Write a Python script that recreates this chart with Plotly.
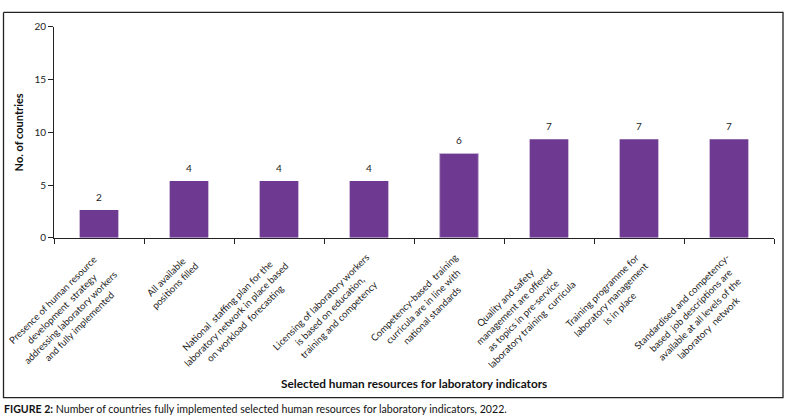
import plotly.graph_objects as go
import math

categories = [
    "Presence of human resource<br>development  strategy<br>addressing laboratory workers<br>and fully implemented",
    "All available<br>positions filled",
    "National  staffing plan for the<br>laboratory network in place based<br>on workload  forecasting",
    "Licensing of laboratory workers<br>is based on education,<br>training and competency",
    "Competency-based  training<br>curricula are in line with<br>national standards",
    "Quality and safety<br>management are offered<br>as topics in pre-service<br>laboratory training  curricula",
    "Training programme for<br>laboratory management<br>is in place",
    "Standardised and competency-<br>based  job descriptions are<br>available at all levels of the<br>laboratory  network",
]
bar_heights = [2.65, 5.4, 5.4, 5.4, 8.0, 9.35, 9.35, 9.35]
value_labels = ["2", "4", "4", "4", "6", "7", "7", "7"]
y_ticks = [0, 5, 10, 15, 20]

FONT = "Lato"
W, H = 790, 416
M = 5.0  # vertical margin that plotly pushes for the hidden overlay axis
# plot area in pixels
PX0, PX1, PY0, PY1 = 54, 774, 25, 237

def px(x):
    return x / W

def py(y):
    return (H - M - y) / (H - 2 * M)

keys = [f"c{i}" for i in range(len(categories))]

line_colors = ["rgba(0,0,0,0)"] * len(keys)
line_colors[4] = "#c4b3d6"

fig = go.Figure()
fig.add_trace(go.Bar(
    x=keys, y=bar_heights,
    marker=dict(color="#6E3A91", line=dict(color=line_colors, width=1)),
    hoverinfo="skip",
))

# outer frame on a full-page overlay axis pair (pixel coordinates)
fx0, fx1, fy0, fy1 = 3.5, 783.0, 10.5, 397.5
fig.add_trace(go.Scatter(
    x=[fx0, fx1, fx1, fx0, fx0], y=[fy0, fy0, fy1, fy1, fy0],
    xaxis="x2", yaxis="y2", mode="lines",
    line=dict(color="#222", width=1.3), hoverinfo="skip",
))

ann = []
for k, h, t in zip(keys, bar_heights, value_labels):
    ann.append(dict(x=k, y=h, xref="x", yref="y", text=t, showarrow=False,
                    yanchor="bottom", yshift=5, font=dict(family=FONT, size=10, color="#222")))

fs = 9.6
lh = fs * 1.3
for k, c in zip(keys, categories):
    n = c.count("<br>") + 1
    Hb = n * lh
    ann.append(dict(x=k, y=py(PY1), xref="x", yref="paper", text=c, showarrow=False,
                    textangle=-45, align="center", xanchor="right", yanchor="top",
                    xshift=-4 + Hb / math.sqrt(2), yshift=-11,
                    font=dict(family=FONT, size=fs, color="#222")))

ann.append(dict(x=px((PX0 + PX1) / 2), y=py(383), xref="paper", yref="paper",
                text="<b>Selected human resources for laboratory indicators</b>",
                showarrow=False, xanchor="center", yanchor="middle",
                font=dict(family=FONT, size=11.8, color="#111")))
ann.append(dict(x=px(2), y=py(408.5), xref="paper", yref="paper",
                text="<b>FIGURE 2:</b> Number of countries fully implemented selected human resources for laboratory indicators, 2022.",
                showarrow=False, xanchor="left", yanchor="middle",
                font=dict(family=FONT, size=10.6, color="#111")))

fig.update_layout(
    width=W, height=H,
    margin=dict(l=0, r=0, t=0, b=0, pad=0),
    paper_bgcolor="white", plot_bgcolor="rgba(0,0,0,0)",
    bargap=0.57, showlegend=False,
    annotations=ann,
    font=dict(family=FONT, color="#222"),
    xaxis=dict(
        domain=[px(PX0), px(PX1)], anchor="y",
        type="category", showticklabels=False, ticks="outside", tickson="boundaries",
        ticklen=5, tickcolor="#222", showline=True, linecolor="#222", linewidth=1,
        showgrid=False, zeroline=False, range=[-0.5, len(keys) - 0.5],
    ),
    yaxis=dict(
        domain=[py(PY1), py(PY0)], anchor="x",
        range=[0, 20], tickvals=y_ticks, ticks="outside", ticklen=5, tickcolor="#222",
        showline=True, linecolor="#222", linewidth=1, showgrid=False, zeroline=False,
        tickfont=dict(family=FONT, size=10, color="#222"),
        title=dict(text="<b>No. of countries</b>", font=dict(family=FONT, size=11, color="#111"), standoff=8),
    ),
    xaxis2=dict(domain=[0, 1], anchor="y2", range=[0, W], visible=False, fixedrange=True),
    yaxis2=dict(domain=[0, 1], anchor="x2", range=[H - M, M], visible=False, fixedrange=True),
)

fig.write_html("out.html", config={"displayModeBar": False},
               post_script="document.body.style.margin='0px';")
